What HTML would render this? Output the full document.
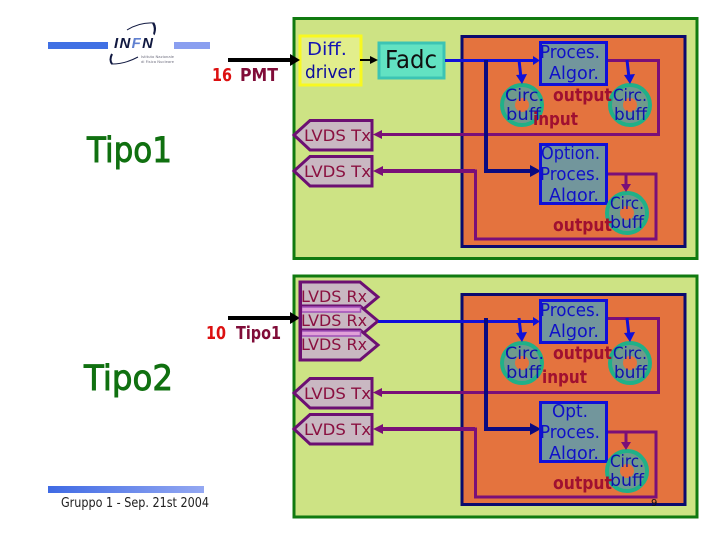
<!DOCTYPE html>
<html><head><meta charset="utf-8"><title>Tipo1 Tipo2</title>
<style>
html,body{margin:0;padding:0;background:#fff}
svg{display:block}
text{font-family:"DejaVu Sans","Liberation Sans",sans-serif}
.p{fill:#1010c8;font-size:18px}
.c{fill:#1010b0;font-size:17px}
.o{fill:#a01030;font-size:18px;font-weight:bold}
.l{fill:#8a1040;font-size:16px}
.t{fill:#107010;font-size:35px;stroke:#107010;stroke-width:.9px}
</style></head><body>
<svg width="720" height="540" viewBox="0 0 720 540" xmlns="http://www.w3.org/2000/svg">
<defs>
<linearGradient id="g"><stop offset="0" stop-color="#3f6ae4"/><stop offset="1" stop-color="#94a8f2"/></linearGradient>
</defs>
<rect width="720" height="540" fill="#fff"/>

<!-- logo -->
<rect x="48" y="42" width="60" height="7" fill="#4070e4"/>
<rect x="174" y="42" width="36" height="7" fill="#8a9ff0"/>
<text x="114" y="48" font-size="15" font-weight="bold" font-style="italic" fill="#101840" textLength="39" lengthAdjust="spacing" style="font-family:'Liberation Sans',sans-serif">I N<tspan fill="#6080d0"> F</tspan> N</text>
<path d="M127 30Q140 22 154 23Q157 28 154 35" fill="none" stroke="#101840" stroke-width="1"/>
<path d="M153 23Q156 28 154 34" fill="none" stroke="#101840" stroke-width="2"/>
<path d="M112 54Q109 62 112 64Q125 64 138 57" fill="none" stroke="#101840" stroke-width="1"/>
<path d="M112 54Q109 60 112 64" fill="none" stroke="#101840" stroke-width="2"/>
<text x="141" y="58" font-size="3.8" fill="#707080" textLength="33" lengthAdjust="spacingAndGlyphs">Istituto Nazionale</text>
<text x="141" y="63" font-size="3.8" fill="#707080" textLength="33" lengthAdjust="spacingAndGlyphs">di Fisica Nucleare</text>

<!-- left labels -->
<text x="212" y="81" font-size="18" font-weight="bold" textLength="20" lengthAdjust="spacingAndGlyphs" fill="#dc1010">16</text>
<text x="240" y="81" font-size="18" font-weight="bold" textLength="38" lengthAdjust="spacingAndGlyphs" fill="#800c38">PMT</text>
<text x="206" y="339" font-size="18" font-weight="bold" textLength="20" lengthAdjust="spacingAndGlyphs" fill="#dc1010">10</text>
<text x="236" y="339" font-size="18" font-weight="bold" textLength="45" lengthAdjust="spacingAndGlyphs" fill="#800c38">Tipo1</text>
<text class="t" x="87" y="162" textLength="85" lengthAdjust="spacingAndGlyphs">Tipo1</text>
<text class="t" x="84" y="390" textLength="89" lengthAdjust="spacingAndGlyphs">Tipo2</text>
<rect x="48" y="486" width="156" height="7" fill="url(#g)"/>
<text x="61" y="507" font-size="13" fill="#202020" textLength="148" lengthAdjust="spacingAndGlyphs">Gruppo 1 - Sep. 21st  2004</text>

<!-- green panels -->
<rect x="294" y="18.5" width="403" height="240" fill="#cde384" stroke="#107a10" stroke-width="3"/>
<rect x="294" y="276" width="403" height="241" fill="#cde384" stroke="#107a10" stroke-width="3"/>

<!-- orange panels -->
<rect x="462" y="36.5" width="223" height="210" fill="#e4733e" stroke="#0a0a6e" stroke-width="3"/>
<rect x="462" y="294.5" width="223" height="210" fill="#e4733e" stroke="#0a0a6e" stroke-width="3"/>

<!-- Diff / Fadc -->
<rect x="300" y="36" width="61" height="49" fill="#e2ee8c" stroke="#f8f820" stroke-width="3"/>
<text x="307" y="55" font-size="18" fill="#1414b4" textLength="40" lengthAdjust="spacingAndGlyphs">Diff.</text>
<text x="305" y="78" font-size="18" fill="#0c0c9c" textLength="50" lengthAdjust="spacingAndGlyphs">driver</text>
<rect x="379" y="43" width="65" height="35" fill="#62e2c2" stroke="#3cc4b4" stroke-width="3"/>
<text x="385" y="68" font-size="25" fill="#101010" textLength="52" lengthAdjust="spacingAndGlyphs">Fadc</text>

<!-- black arrows -->
<rect x="228" y="58" width="64" height="4" fill="#000"/><polygon points="290,54 300,60 290,66" fill="#000"/>
<rect x="228" y="316" width="64" height="4" fill="#000"/><polygon points="290,312 300,318 290,324" fill="#000"/>
<rect x="360" y="59" width="12" height="2" fill="#000"/><polygon points="370,56 378,60 370,64" fill="#000"/>

<!-- LVDS Tx -->
<g fill="#c9b8c2" stroke="#6c0f72" stroke-width="3">
<polygon points="294,135 310,120.500 372,120.500 372,150 310,150"/>
<polygon points="294,171 310,156.500 372,156.500 372,186 310,186"/>
<polygon points="294,393 310,378.500 372,378.500 372,408 310,408"/>
<polygon points="294,429 310,414.500 372,414.500 372,444 310,444"/>
<!-- LVDS Rx -->
<polygon points="300,282 360,282 378,297 360,312 300,312"/>
<polygon points="300,306 360,306 378,321 360,336 300,336"/>
<polygon points="300,330 360,330 378,345 360,360 300,360"/>
</g>
<rect x="301.500" y="307" width="59" height="5" fill="#e0a0d8" stroke="#a050b8" stroke-width="1.500"/>
<rect x="301.500" y="331" width="59" height="5" fill="#e0a0d8" stroke="#a050b8" stroke-width="1.500"/>
<rect x="299" y="282" width="3" height="79" fill="#6c0f72"/>
<g class="l">
<text class="l" x="304" y="141" textLength="67" lengthAdjust="spacingAndGlyphs">LVDS Tx</text>
<text class="l" x="304" y="177" textLength="67" lengthAdjust="spacingAndGlyphs">LVDS Tx</text>
<text class="l" x="304" y="399" textLength="67" lengthAdjust="spacingAndGlyphs">LVDS Tx</text>
<text class="l" x="304" y="435" textLength="67" lengthAdjust="spacingAndGlyphs">LVDS Tx</text>
<text class="l" x="301" y="302" textLength="66" lengthAdjust="spacingAndGlyphs">LVDS Rx</text>
<text class="l" x="301" y="326" textLength="66" lengthAdjust="spacingAndGlyphs">LVDS Rx</text>
<text class="l" x="301" y="350" textLength="66" lengthAdjust="spacingAndGlyphs">LVDS Rx</text>
</g>

<!-- top block -->
<g id="top">
<g fill="none" stroke="#7a0f78" stroke-width="3">
<path d="M607 60.500H658.500V134.500H378"/>
<path d="M607 174H656V239H475.500V171H378" />
<path d="M475 171H380" stroke-width="4"/>
</g>
<polygon points="373,134.500 382,130 382,139" fill="#7a0f78"/>
<polygon points="373,171 383,166 383,176" fill="#7a0f78"/>
<path d="M445 60.500H535" stroke="#1010d8" stroke-width="3" fill="none"/>
<polygon points="533,56 540,60.500 533,65" fill="#1010d8"/>
<path d="M486 60V171H533" stroke="#0a0a80" stroke-width="4" fill="none"/>
<polygon points="530,165 541,171 530,177" fill="#0a0a80"/>

<rect x="540.500" y="42.500" width="66" height="42" fill="#72969c" stroke="#1010d8" stroke-width="3"/>
<rect x="540.500" y="144.500" width="66" height="59" fill="#72969c" stroke="#1010d8" stroke-width="3"/>
<g fill="#6f9a8c" stroke="#20b088" stroke-width="4">
<circle cx="522" cy="105" r="20"/><circle cx="630" cy="105" r="20"/><circle cx="627" cy="213" r="20"/>
</g>
<g fill="#e4733e"><circle cx="522" cy="105" r="7"/><circle cx="630" cy="105" r="7"/><circle cx="627" cy="213" r="7"/></g>
<path d="M519 60L521 78M627 60L629 78" stroke="#1010d8" stroke-width="3"/>
<polygon points="516,75 527,74 522,84" fill="#1010d8"/><polygon points="624,75 635,74 630,84" fill="#1010d8"/>
<path d="M626 174V186" stroke="#7a0f78" stroke-width="3"/><polygon points="621,184 631,184 626,192" fill="#7a0f78"/>

<text class="p" x="540" y="58" textLength="60" lengthAdjust="spacingAndGlyphs">Proces.</text>
<text class="p" x="549" y="79" textLength="50" lengthAdjust="spacingAndGlyphs">Algor.</text>
<text class="p" x="541" y="159" textLength="59" lengthAdjust="spacingAndGlyphs">Option.</text>
<text class="p" x="540" y="180" textLength="60" lengthAdjust="spacingAndGlyphs">Proces.</text>
<text class="p" x="549" y="201" textLength="50" lengthAdjust="spacingAndGlyphs">Algor.</text>
<text class="c" x="505" y="101" textLength="39" lengthAdjust="spacingAndGlyphs">Circ.</text>
<text class="c" x="506" y="120" textLength="35" lengthAdjust="spacingAndGlyphs">buff</text>
<text class="c" x="613" y="101" textLength="34" lengthAdjust="spacingAndGlyphs">Circ.</text>
<text class="c" x="614" y="120" textLength="33" lengthAdjust="spacingAndGlyphs">buff</text>
<text class="c" x="610" y="209" textLength="34" lengthAdjust="spacingAndGlyphs">Circ.</text>
<text class="c" x="610" y="228" textLength="34" lengthAdjust="spacingAndGlyphs">buff</text>
<text class="o" x="553" y="101" textLength="59" lengthAdjust="spacingAndGlyphs">output</text>
<text class="o" x="533" y="125" textLength="45" lengthAdjust="spacingAndGlyphs">input</text>
<text class="o" x="553" y="231" textLength="59" lengthAdjust="spacingAndGlyphs">output</text>
</g>

<!-- bottom block -->
<g>
<g fill="none" stroke="#7a0f78" stroke-width="3">
<path d="M607 318.500H658.500V392.500H378"/>
<path d="M607 432H656V497H475.500V429H378"/>
<path d="M475 429H380" stroke-width="4"/>
</g>
<polygon points="373,392.500 382,388 382,397" fill="#7a0f78"/>
<polygon points="373,429 383,424 383,434" fill="#7a0f78"/>
<path d="M378 321.500H535" stroke="#1010d8" stroke-width="3" fill="none"/>
<polygon points="533,317 540,321.500 533,326" fill="#1010d8"/>
<path d="M486 318V429H533" stroke="#0a0a80" stroke-width="4" fill="none"/>
<polygon points="530,423 541,429 530,435" fill="#0a0a80"/>

<rect x="540.500" y="300.500" width="66" height="42" fill="#72969c" stroke="#1010d8" stroke-width="3"/>
<rect x="540.500" y="402.500" width="66" height="59" fill="#72969c" stroke="#1010d8" stroke-width="3"/>
<g fill="#6f9a8c" stroke="#20b088" stroke-width="4">
<circle cx="522" cy="363" r="20"/><circle cx="630" cy="363" r="20"/><circle cx="627" cy="471" r="20"/>
</g>
<g fill="#e4733e"><circle cx="522" cy="363" r="7"/><circle cx="630" cy="363" r="7"/><circle cx="627" cy="471" r="7"/></g>
<path d="M519 318L521 336M627 318L629 336" stroke="#1010d8" stroke-width="3"/>
<polygon points="516,333 527,332 522,342" fill="#1010d8"/><polygon points="624,333 635,332 630,342" fill="#1010d8"/>
<path d="M626 432V444" stroke="#7a0f78" stroke-width="3"/><polygon points="621,442 631,442 626,450" fill="#7a0f78"/>

<text class="p" x="540" y="316" textLength="60" lengthAdjust="spacingAndGlyphs">Proces.</text>
<text class="p" x="549" y="337" textLength="50" lengthAdjust="spacingAndGlyphs">Algor.</text>
<text class="p" x="552" y="417" textLength="36" lengthAdjust="spacingAndGlyphs">Opt.</text>
<text class="p" x="540" y="438" textLength="60" lengthAdjust="spacingAndGlyphs">Proces.</text>
<text class="p" x="549" y="459" textLength="50" lengthAdjust="spacingAndGlyphs">Algor.</text>
<text class="c" x="505" y="359" textLength="39" lengthAdjust="spacingAndGlyphs">Circ.</text>
<text class="c" x="506" y="378" textLength="35" lengthAdjust="spacingAndGlyphs">buff</text>
<text class="c" x="613" y="359" textLength="34" lengthAdjust="spacingAndGlyphs">Circ.</text>
<text class="c" x="614" y="378" textLength="33" lengthAdjust="spacingAndGlyphs">buff</text>
<text class="c" x="610" y="467" textLength="34" lengthAdjust="spacingAndGlyphs">Circ.</text>
<text class="c" x="610" y="486" textLength="34" lengthAdjust="spacingAndGlyphs">buff</text>
<text class="o" x="553" y="359" textLength="59" lengthAdjust="spacingAndGlyphs">output</text>
<text class="o" x="542" y="383" textLength="45" lengthAdjust="spacingAndGlyphs">input</text>
<text class="o" x="553" y="489" textLength="59" lengthAdjust="spacingAndGlyphs">output</text>
</g>
<text x="651" y="506" font-size="10" fill="#101010">9</text>
</svg>
</body></html>
